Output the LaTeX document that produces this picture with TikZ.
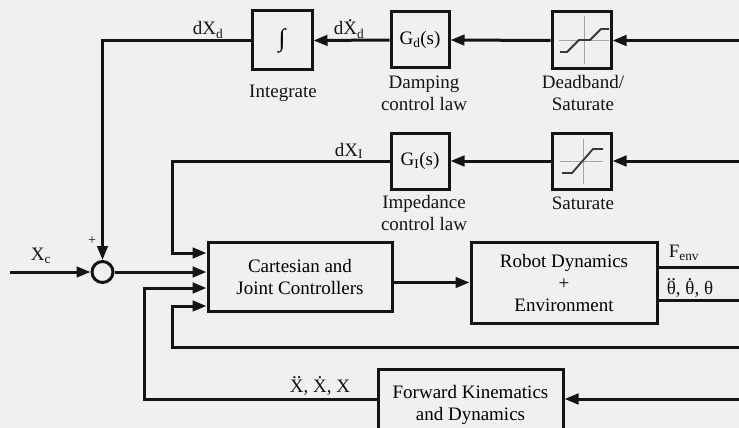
\documentclass[tikz,border=0pt]{standalone}
\usepackage{fontspec}
\setmainfont{Liberation Serif}
\usetikzlibrary{arrows.meta,calc}
\definecolor{bgc}{RGB}{239,240,240}
\definecolor{ink}{RGB}{20,20,20}
\newsavebox\accbox
\newcommand\topacc[2]{\leavevmode\sbox\accbox{#2}\rlap{\makebox[\wd\accbox]{\raisebox{\dimexpr\ht\accbox+0.8pt\relax}{\smash{#1}}}}\usebox\accbox}
\begin{document}
\begin{tikzpicture}[x=1pt,y=-1pt,
  font=\fontsize{19}{22}\selectfont,
  blk/.style={draw=ink, line width=3pt, inner sep=0pt, align=center},
  lbl/.style={inner sep=0pt, align=center, text=ink},
  arr/.style={draw=ink, line width=3pt, -{Triangle[length=14pt,width=10.5pt]}},
  wire/.style={draw=ink, line width=3pt},
  cross/.style={draw=gray!70, line width=0.8pt},
  curve/.style={draw=ink!85, line width=1.8pt}]
\useasboundingbox (0,0) rectangle (739,428);
\fill[bgc] (0,0) rectangle (739,428);
\clip (0,0) rectangle (739,428);

% blocks
\node[blk, minimum width=60pt, minimum height=59pt] (integ) at (282,40.5) {{\fontsize{25}{25}\selectfont ∫}};
\node[blk, minimum width=58pt, minimum height=56pt] (gd) at (420,40) {G\textsubscript{d}(s)};
\node[blk, minimum width=59pt, minimum height=57pt] (db) at (581.5,40.5) {};
\node[blk, minimum width=58pt, minimum height=56pt] (gi) at (420,161) {G\textsubscript{I}(s)};
\node[blk, minimum width=59pt, minimum height=56pt] (sat) at (581.5,161) {};
\node[draw=ink, line width=3pt, circle, minimum size=21pt, inner sep=0pt] (sum) at (102.5,272) {};
\node[blk, minimum width=184pt, minimum height=69pt] (cart) at (300,276.5) {Cartesian and\\Joint Controllers};
\node[blk, minimum width=186pt, minimum height=81pt] (robot) at (564,282.5) {Robot Dynamics\\+\\Environment};
\node[blk, minimum width=185pt, minimum height=72pt] (fk) at (470.5,405) {Forward Kinematics\\and Dynamics};

% deadband glyph
\draw[cross] (584,16) -- (584,64);
\draw[cross] (559,40) -- (609,40);
\draw[curve] (560,52) -- (567,52) -- (579,40) -- (590,40) -- (601,29) -- (609,29);
% saturate glyph
\draw[cross] (583,139) -- (583,184);
\draw[cross] (560,161) -- (603,161);
\draw[curve] (562,173) -- (572,173) -- (593,149) -- (603,149);

% block labels
\node[lbl] (lint) at (283,93) {Integrate};
\node[lbl] (lgd) at (424,93) {Damping\\control law};
\node[lbl] (ldb) at (583,93) {Deadband/\\Saturate};
\node[lbl] (lgi) at (424,213) {Impedance\\control law};
\node[lbl] (lsat) at (583,203) {Saturate};

% signal labels
\node[lbl] (sxd) at (208,30) {dX\textsubscript{d}};
\node[lbl] (sxdd) at (349,30) {d\topacc{.}{X}\textsubscript{d}};
\node[lbl] (sxi) at (349,151) {dX\textsubscript{I}};
\node[lbl] (sxc) at (41,256) {X\textsubscript{c}};
\node[lbl, font=\fontsize{14}{14}\selectfont] (plus) at (92,241) {+};
\node[lbl] (sxx) at (320,387) {\topacc{..}{X}, \topacc{.}{X}, X};
\node[lbl] (sfe) at (684,253) {F\textsubscript{env}};
\node[lbl] (sth) at (690,289) {\topacc{..}{θ}, \topacc{.}{θ}, θ};

% coordinates
\coordinate (inD) at (739,40.5);
\coordinate (inS) at (739,161);
\coordinate (xin) at (10,272);
\coordinate (c1) at (172,253);
\coordinate (fb1) at (739,347);
\coordinate (c2) at (172,347);
\coordinate (y306) at (0,306);
\coordinate (oF) at (739,267);
\coordinate (oT) at (739,300);
\coordinate (fb2) at (739,399);
\coordinate (c3) at (144,288);

% connectors
\draw[arr] (inD) -- (db.east);
\draw[arr] (db.west) -- (gd.east);
\draw[arr] (gd.west) -- (integ.east);
\draw[arr] (integ.west) -| (sum.north);
\draw[arr] (inS) -- (sat.east);
\draw[arr] (sat.west) -- (gi.east);
\draw[arr] (gi.west) -| (c1) -- (c1 -| cart.west);
\draw[arr] (xin) -- (sum.west);
\draw[arr] (sum.east) -- (sum.east -| cart.west);
\draw[arr] (fk.west |- fb2) -| (c3) -- (c3 -| cart.west);
\draw[arr] (fb1) -- (c2) |- (cart.west |- y306);
\draw[arr] (cart.east |- robot.west) -- (robot.west);
\draw[wire] (robot.east |- oF) -- (oF);
\draw[wire] (robot.east |- oT) -- (oT);
\draw[arr] (fb2) -- (fb2 -| fk.east);
\end{tikzpicture}
\end{document}
